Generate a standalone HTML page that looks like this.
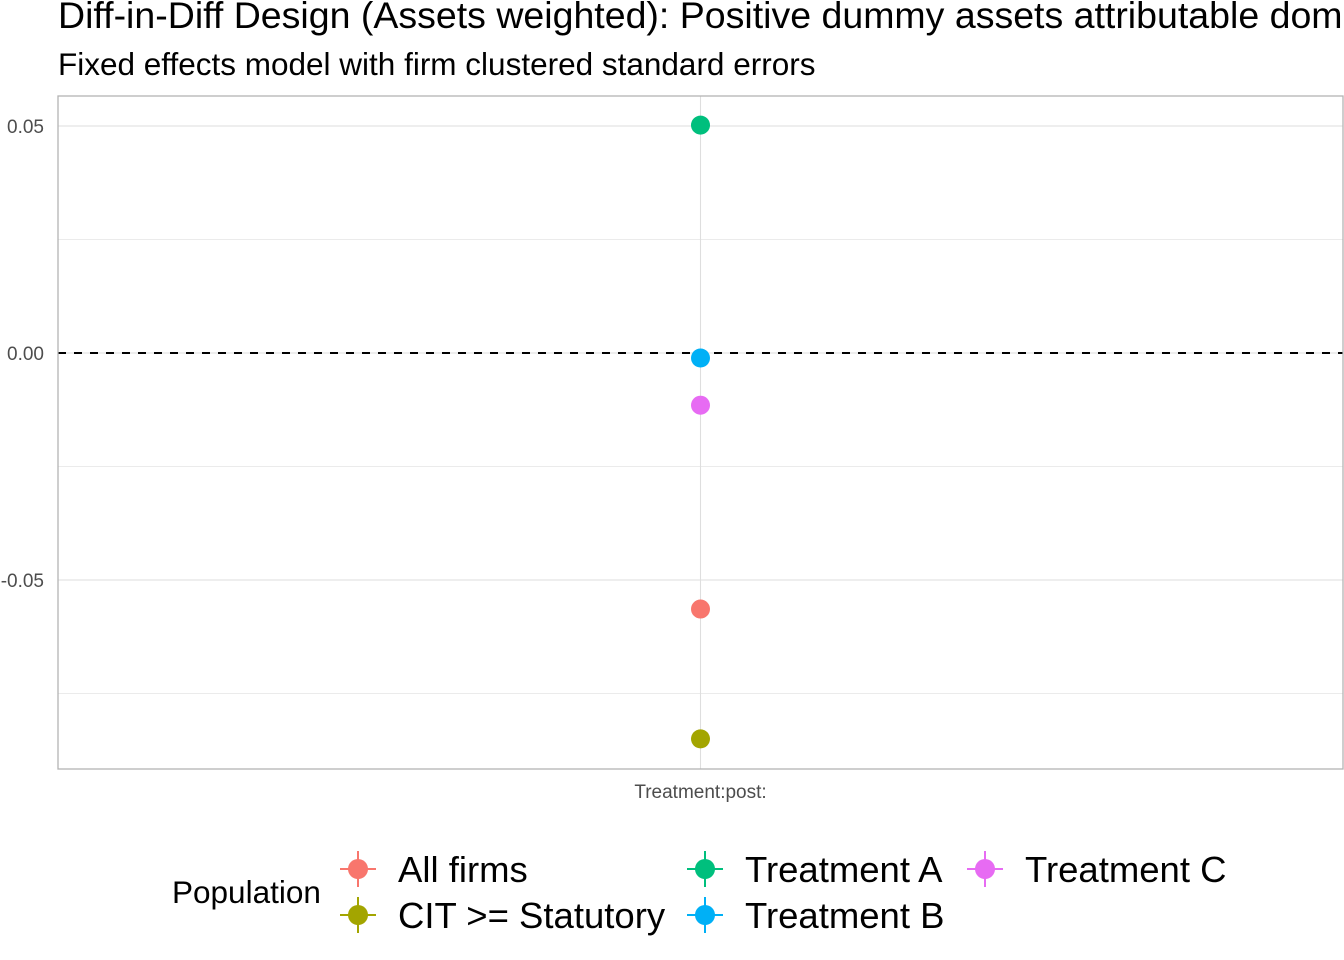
<!DOCTYPE html>
<html><head><meta charset="utf-8"><style>
html,body{margin:0;padding:0;background:#fff;overflow:hidden}
svg{display:block;font-family:"Liberation Sans",sans-serif}
</style></head><body>
<svg id="chart" width="1344" height="960" viewBox="0 0 1344 960">
<text x="58" y="28" font-size="37.5" fill="#000">Diff-in-Diff Design (Assets weighted): Positive dummy assets attributable domestic</text>
<text x="58" y="75" font-size="31.5" fill="#000">Fixed effects model with firm clustered standard errors</text>
<g id="grid"></g>
<g id="marks"></g>
<rect x="58" y="96" width="1285" height="673" fill="none" stroke="#b3b3b3" stroke-width="1.3"/>
<g id="legend"></g>
</svg>
<script>
const categories = ["Treatment:post:"];
const seriesNames = ["All firms","CIT >= Statutory","Treatment A","Treatment B","Treatment C"];
const seriesValues = [-0.0564,-0.0850,0.0502,-0.0011,-0.0115];
const seriesColors = ["#F8766D","#A3A500","#00BF7D","#00B0F6","#E76BF3"];
const yTicks = [0.05,0.00,-0.05];
const yTickLabels = ["0.05","0.00","-0.05"];
const yMinor = [0.025,-0.025,-0.075];

const NS="http://www.w3.org/2000/svg";
const x0=58,x1=1343,yTop=96,yBot=769;
const yScale=v=>353-(v/0.05)*227;
const xScale=i=>x0+(x1-x0)*(i+0.5)/categories.length;
function mk(tag,attrs,parent){const e=document.createElementNS(NS,tag);for(const k in attrs)e.setAttribute(k,attrs[k]);parent.appendChild(e);return e;}
const grid=document.getElementById('grid'),marks=document.getElementById('marks'),leg=document.getElementById('legend');
yMinor.forEach(v=>{const l=mk('line',{x1:x0,x2:x1,y1:yScale(v),y2:yScale(v),stroke:'#ebebeb','stroke-width':1},grid);

});
yTicks.forEach((v,i)=>{const l=mk('line',{x1:x0,x2:x1,y1:yScale(v),y2:yScale(v),stroke:'#dedede','stroke-width':1.1},grid);


const t=mk('text',{x:44,y:yScale(v)+7,'text-anchor':'end','font-size':19,fill:'#4d4d4d'},grid);t.textContent=yTickLabels[i];

});
categories.forEach((c,i)=>{const l=mk('line',{x1:xScale(i),x2:xScale(i),y1:yTop,y2:yBot,stroke:'#dedede','stroke-width':1.1},grid);


const t=mk('text',{x:xScale(i),y:798,'text-anchor':'middle','font-size':19,fill:'#4d4d4d'},grid);t.textContent=c;

});
const z=mk('line',{x1:x0,x2:x1,y1:yScale(0),y2:yScale(0),stroke:'#000','stroke-width':2,'stroke-dasharray':'8,8'},marks);


seriesValues.forEach((v,i)=>{const c=mk('circle',{cx:xScale(0),cy:yScale(v),r:9.5,fill:seriesColors[i]},marks);

});
const lt=mk('text',{x:172,y:903,'font-size':31.5,fill:'#000'},leg);lt.textContent='Population';


const pos=[[358,869],[358,915],[705,869],[705,915],[985,869]];
seriesNames.forEach((n,i)=>{const g=mk('g',{},leg);


const [cx,cy]=pos[i];
mk('line',{x1:cx-18,x2:cx+18,y1:cy,y2:cy,stroke:seriesColors[i],'stroke-width':2},g);
mk('line',{x1:cx,x2:cx,y1:cy-18,y2:cy+18,stroke:seriesColors[i],'stroke-width':2},g);
mk('circle',{cx:cx,cy:cy,r:10,fill:seriesColors[i]},g);
const t=mk('text',{x:cx+40,y:cy+13,'font-size':36.5,fill:'#000'},g);t.textContent=n;});
</script>
</body></html>
